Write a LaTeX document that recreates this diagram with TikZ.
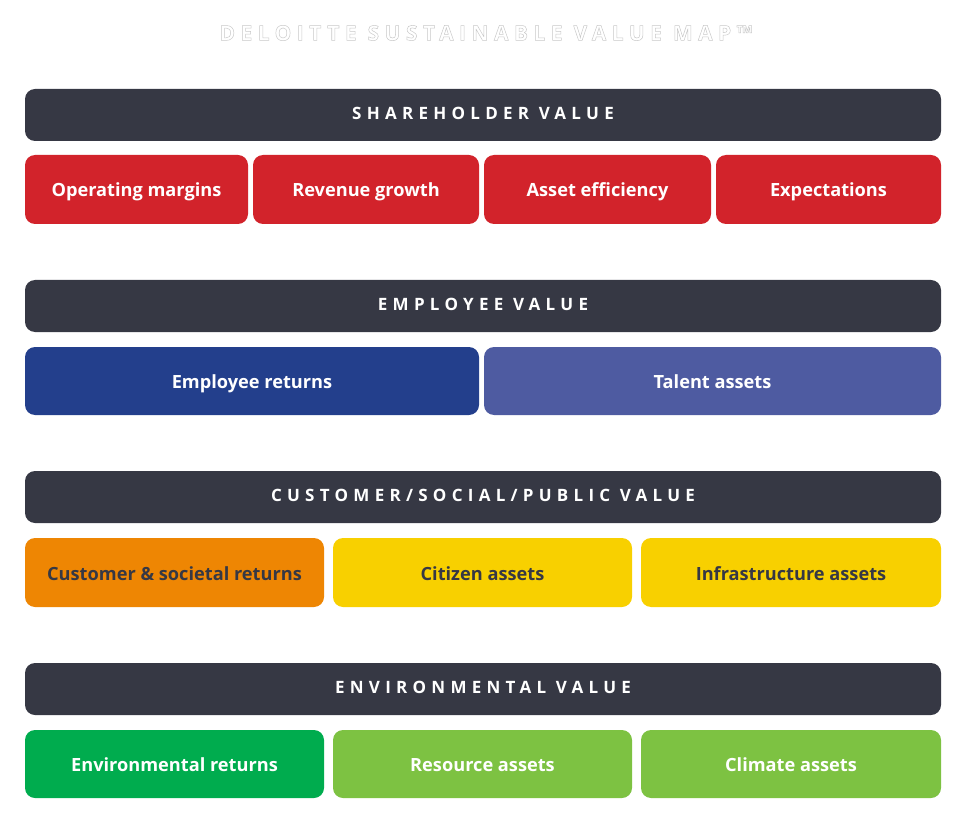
\documentclass[tikz,border=0pt]{standalone}
\usepackage{fontspec}
\setmainfont{Open Sans}
\newfontfamily\boxfont{Open Sans}[BoldFont={* Bold}]
\newfontfamily\headfont{Open Sans}[BoldFont={* Bold},LetterSpace=31]
\newfontfamily\titlefont{Open Sans}[BoldFont={* Bold},LetterSpace=26]
\definecolor{hdr}{HTML}{363844}
\definecolor{sred}{HTML}{D2232B}
\definecolor{eblue}{HTML}{233F8C}
\definecolor{tblue}{HTML}{4E5BA1}
\definecolor{corange}{HTML}{EE8603}
\definecolor{cyellow}{HTML}{F8D000}
\definecolor{egreen}{HTML}{00AC4E}
\definecolor{lgreen}{HTML}{7DC242}
\definecolor{outl}{HTML}{C8C8C8}
\begin{document}
\begin{tikzpicture}[x=1pt,y=-1pt,
  hdrbox/.style={fill=hdr,rounded corners=10pt,inner sep=0pt,minimum width=916,minimum height=52},
  hdrtext/.style={inner sep=0pt,text=white,text height=12.2pt,text depth=0pt,
    font=\headfont\bfseries\fontsize{17}{19}\selectfont},
  cell/.style={rounded corners=10pt,inner sep=0pt,text=white,text height=15pt,text depth=0pt,
    font=\boxfont\bfseries\fontsize{18.2}{20}\selectfont}]
\useasboundingbox (0,0) rectangle (969,818);
% headers
\node[hdrbox] (h1) at (483,115) {};
\node[hdrtext] (h1t) at ([yshift=2pt]h1.center) {SHAREHOLDER VALUE};
\node[hdrbox] (h2) at (483,306) {};
\node[hdrtext] (h2t) at ([yshift=2pt]h2.center) {EMPLOYEE VALUE};
\node[hdrbox] (h3) at (483,497) {};
\node[hdrtext] (h3t) at ([yshift=2pt]h3.center) {CUSTOMER/SOCIAL/PUBLIC VALUE};
\node[hdrbox] (h4) at (483,689) {};
\node[hdrtext] (h4t) at ([yshift=2pt]h4.center) {ENVIRONMENTAL VALUE};
% shareholder row
\node[cell,fill=sred,minimum width=223,minimum height=69] (s1) at (136.5,189.5) {Operating margins};
\node[cell,fill=sred,minimum width=226,minimum height=69] (s2) at (366,189.5) {Revenue growth};
\node[cell,fill=sred,minimum width=227,minimum height=69] (s3) at (597.5,189.5) {Asset efficiency};
\node[cell,fill=sred,minimum width=225,minimum height=69] (s4) at (828.5,189.5) {Expectations};
% employee row
\node[cell,fill=eblue,minimum width=454,minimum height=68] (e1) at (252,381) {Employee returns};
\node[cell,fill=tblue,minimum width=457,minimum height=68] (e2) at (712.5,381) {Talent assets};
% customer row
\node[cell,fill=corange,text=hdr,minimum width=299,minimum height=69] (c1) at (174.5,572.5) {Customer \& societal returns};
\node[cell,fill=cyellow,text=hdr,minimum width=299,minimum height=69] (c2) at (482.5,572.5) {Citizen assets};
\node[cell,fill=cyellow,text=hdr,minimum width=300,minimum height=69] (c3) at (791,572.5) {Infrastructure assets};
% environmental row
\node[cell,fill=egreen,minimum width=299,minimum height=68] (v1) at (174.5,764) {Environmental returns};
\node[cell,fill=lgreen,minimum width=299,minimum height=68] (v2) at (482.5,764) {Resource assets};
\node[cell,fill=lgreen,minimum width=300,minimum height=68] (v3) at (791,764) {Climate assets};
% title (outlined)
\node[inner sep=0pt,text=outl,text height=15pt,text depth=0pt,
  font=\titlefont\bfseries\fontsize{21}{23}\selectfont] (title) at (486,33)
  {\special{pdf:code 1 Tr 0.5 w}DELOITTE SUSTAINABLE VALUE MAP™\special{pdf:code 0 Tr 0.4 w}};
\end{tikzpicture}
\end{document}
